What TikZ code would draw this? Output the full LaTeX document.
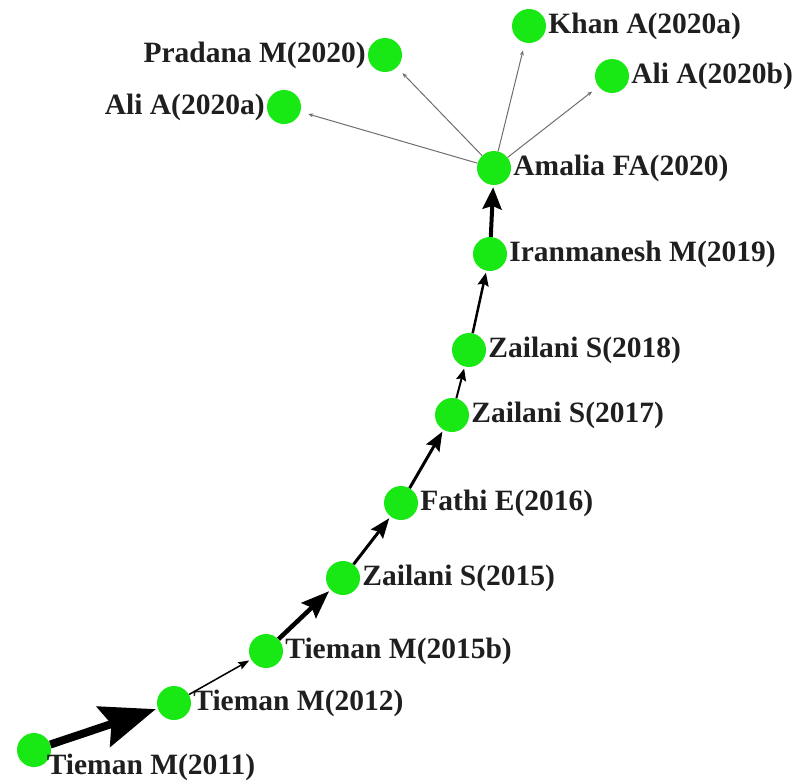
\documentclass[tikz,border=0pt]{standalone}
\usepackage{fontspec}
\setmainfont{Liberation Serif}
\usepackage{tikz}
\usetikzlibrary{arrows.meta, positioning}

\definecolor{nodegreen}{RGB}{24,232,20}
\definecolor{fangray}{RGB}{110,110,110}

\tikzset{
  pub/.style={circle, fill=nodegreen, minimum size=34pt, inner sep=0pt},
  lbl/.style={font=\fontsize{29.5}{31}\selectfont\bfseries, text=black!88, inner sep=0pt, label distance=2pt},
  fan/.style={fangray, line width=1pt, shorten >=8pt, -{Stealth[length=5pt, width=4pt]}}
}

\begin{document}
\begin{tikzpicture}[x=1pt, y=-1pt]
  \useasboundingbox (0,0) rectangle (801,782);

  % Main path nodes
  \node[pub, label={[lbl, xshift=-1pt, yshift=10pt]below right:Tieman M(2011)}] (t2011) at (34,750) {};
  \node[pub, label={[lbl]right:Tieman M(2012)}] (t2012) at (174,703) {};
  \node[pub, label={[lbl]right:Tieman M(2015b)}] (t2015b) at (266,651) {};
  \node[pub, label={[lbl]right:Zailani S(2015)}] (z2015) at (343,578) {};
  \node[pub, label={[lbl]right:Fathi E(2016)}] (f2016) at (401,503) {};
  \node[pub, label={[lbl]right:Zailani S(2017)}] (z2017) at (452,415) {};
  \node[pub, label={[lbl]right:Zailani S(2018)}] (z2018) at (469,350) {};
  \node[pub, label={[lbl]right:Iranmanesh M(2019)}] (i2019) at (490,254) {};
  \node[pub, label={[lbl]right:Amalia FA(2020)}] (a2020) at (494,168) {};

  % Papers citing Amalia FA(2020)
  \node[pub, label={[lbl]left:Ali A(2020a)}] (ali2020a) at (284,107) {};
  \node[pub, label={[lbl]left:Pradana M(2020)}] (p2020) at (385,55) {};
  \node[pub, label={[lbl]right:Khan A(2020a)}] (k2020a) at (529,26) {};
  \node[pub, label={[lbl]right:Ali A(2020b)}] (ali2020b) at (612,76) {};

  % Main path arrows (width, head length, head width)
  \foreach \s/\t/\w/\l/\h in {t2011/t2012/8/55/42, t2012/t2015b/1.5/11/8,
      t2015b/z2015/4.5/28/21, z2015/f2016/3/20/15, f2016/z2017/3/19/15,
      z2017/z2018/2/12/10, z2018/i2019/2.5/13/11, i2019/a2020/4/22/19}{
    \draw[line width=\w pt, shorten >=2pt,
      -{Stealth[length=\l pt, width=\h pt, inset=0.15*\l pt]}] (\s) -- (\t);
  }

  % Fan out
  \foreach \t in {ali2020a, p2020, k2020a, ali2020b}{
    \draw[fan] (a2020) -- (\t);
  }
\end{tikzpicture}
\end{document}
